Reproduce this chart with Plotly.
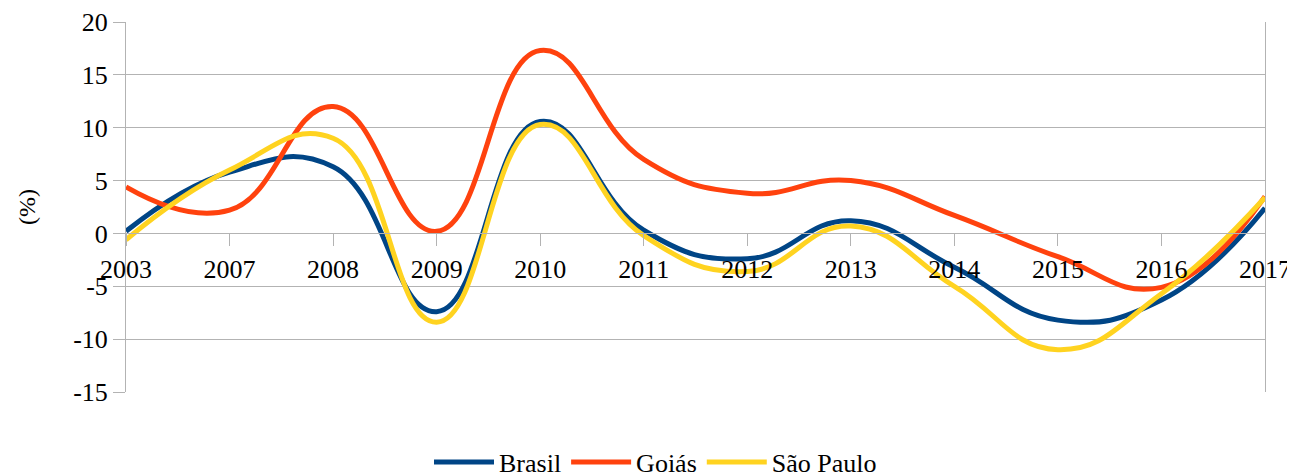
import plotly.graph_objects as go

years = ["2003", "2007", "2008", "2009", "2010", "2011",
         "2012", "2013", "2014", "2015", "2016", "2017"]

brasil = [0.2, 5.8, 6.3, -7.4, 10.6, 0.3, -2.4, 1.2, -3.2, -8.2, -6.3, 2.4]
goias = [4.4, 2.2, 12.0, 0.2, 17.3, 7.0, 3.8, 5.0, 1.7, -2.2, -5.1, 3.5]
sao_paulo = [-0.6, 6.0, 9.0, -8.4, 10.3, -0.2, -3.6, 0.7, -5.0, -11.0, -5.7, 3.4]

y_ticks = [-15, -10, -5, 0, 5, 10, 15, 20]

series = [
    ("Brasil", brasil, "#004586"),
    ("Goiás", goias, "#ff420e"),
    ("São Paulo", sao_paulo, "#ffd320"),
]

FONT = "Liberation Serif, Times New Roman, serif"
GRID = "#b3b3b3"

fig = go.Figure()
for name, vals, color in series:
    fig.add_trace(go.Scatter(
        x=years, y=vals, name=name, mode="lines",
        line=dict(color=color, width=5, shape="spline", smoothing=1.3),
    ))

# the page body adds an 8px offset, so margins are shifted to compensate
fig.update_layout(
    width=1295, height=475,
    margin=dict(l=118, r=38, t=14, b=91),
    paper_bgcolor="white", plot_bgcolor="white",
    font=dict(family=FONT, size=26, color="black"),
    legend=dict(
        orientation="h", xref="container", yref="container",
        x=0.5, xanchor="center", y=0.044, yanchor="middle",
        font=dict(size=26), itemwidth=60,
    ),
)

fig.update_yaxes(
    range=[-15, 20], tickmode="array", tickvals=y_ticks,
    ticktext=[str(v) for v in y_ticks],  # plain hyphen minus, like the source
    showgrid=True, gridcolor=GRID, gridwidth=1,
    zeroline=False, showline=True, linecolor=GRID, mirror=True,
    ticks="outside", ticklen=12, tickcolor=GRID, automargin=False,
    title=dict(text="(%)", standoff=30, font=dict(size=24)),
)

fig.update_xaxes(
    type="category", range=[0, 11], showgrid=False, zeroline=False,
    anchor="free", position=15 / 35, automargin=False,
    showline=True, linecolor=GRID, ticks="outside", ticklen=12, tickcolor=GRID,
)

fig.write_html("out.html")
